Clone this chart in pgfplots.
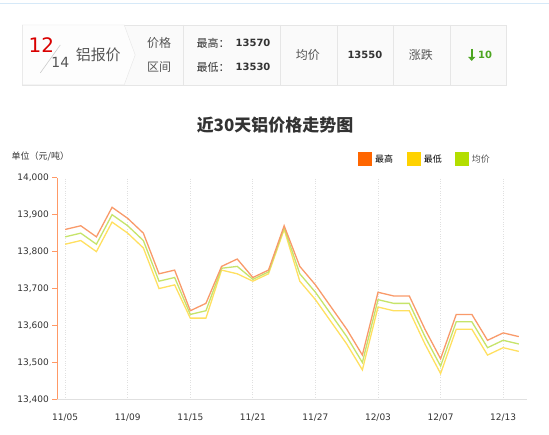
\documentclass[border=0pt]{standalone}
\usepackage{pgfplots}
\pgfplotsset{compat=1.18}
\usepackage{pgfplotstable}
\usepackage{fontspec}
\usetikzlibrary{arrows.meta}
\setmainfont{DejaVu Sans}
\newfontfamily\cjk{Noto Sans CJK SC}
\newfontfamily\dv{DejaVu Sans}
\definecolor{hiC}{HTML}{F99A6A}
\definecolor{loC}{HTML}{FFE060}
\definecolor{avC}{HTML}{C6E46A}
\definecolor{hiL}{HTML}{FF6600}
\definecolor{loL}{HTML}{FFD200}
\definecolor{avL}{HTML}{B3DE00}
\definecolor{axOr}{HTML}{FF9966}
\definecolor{txt}{HTML}{333333}
\definecolor{txtg}{HTML}{555555}
\definecolor{bord}{HTML}{E6E6E6}
\definecolor{gridC}{HTML}{E0E0E0}
\definecolor{upG}{HTML}{4CA520}
\pgfplotstableread{
i hi av lo
0 13860 13840 13820
1 13870 13850 13830
2 13840 13820 13800
3 13920 13900 13880
4 13890 13870 13850
5 13850 13830 13810
6 13740 13720 13700
7 13750 13730 13710
8 13640 13630 13620
9 13660 13640 13620
10 13760 13755 13750
11 13780 13760 13740
12 13730 13725 13720
13 13750 13745 13740
14 13870 13865 13860
15 13760 13740 13720
16 13710 13690 13670
17 13650 13630 13610
18 13590 13570 13550
19 13520 13500 13480
20 13690 13670 13650
21 13680 13660 13640
22 13680 13660 13640
23 13590 13570 13550
24 13510 13490 13470
25 13630 13610 13590
26 13630 13610 13590
27 13560 13540 13520
28 13580 13560 13540
29 13570 13550 13530
}\prices
\begin{document}
\begin{tikzpicture}[x=1pt,y=1pt]
\fill[white] (0,0) rectangle (549,435);
% top thin line
\draw[color={rgb,255:red,214;green,233;blue,248}, line width=0.8pt] (0,432) -- (549,432);
% header box
\filldraw[fill={rgb,255:red,250;green,250;blue,250}, draw=bord] (22,410) rectangle (507,350);
\filldraw[fill={rgb,255:red,253;green,253;blue,253}, draw=bord] (22,410) -- (124,410) -- (135,380) -- (124,350) -- (22,350) -- cycle;
\foreach \xx in {183,280,337,393,450} {\draw[bord] (\xx,410) -- (\xx,350);}
\draw[gray!40, line width=0.6pt] (40,362) -- (60,390);
\node[font=\dv\fontsize{20}{22}\selectfont, text=red!85!black] at (41,390) {12};
\node[font=\dv\fontsize{14}{16}\selectfont, text=txtg] at (60,372) {14};
\node[font=\cjk\fontsize{15}{17}\selectfont, text=txtg] at (98,380) {铝报价};
\node[font=\cjk\fontsize{12}{14}\selectfont, text=txtg] at (159,392) {价格};
\node[font=\cjk\fontsize{12}{14}\selectfont, text=txtg] at (159,368) {区间};
\node[font=\cjk\fontsize{11}{13}\selectfont, text=txt] at (213,392) {最高：};
\node[font=\cjk\fontsize{11}{13}\selectfont, text=txt] at (213,368) {最低：};
\node[font=\dv\bfseries\fontsize{10}{12}\selectfont, text=txt] at (253,392) {13570};
\node[font=\dv\bfseries\fontsize{10}{12}\selectfont, text=txt] at (253,368) {13530};
\node[font=\cjk\fontsize{12}{14}\selectfont, text=txtg] at (308,380) {均价};
\node[font=\dv\bfseries\fontsize{10}{12}\selectfont, text=txt] at (365,380) {13550};
\node[font=\cjk\fontsize{12}{14}\selectfont, text=txtg] at (421,380) {涨跌};
\draw[upG, line width=2.2pt, -{Triangle[length=4pt,width=7pt]}] (472,386) -- (472,374);
\node[font=\dv\bfseries\fontsize{10}{12}\selectfont, text=upG, anchor=west] at (475,380) {10};
% title
\node[font=\cjk\bfseries\fontsize{17}{19}\selectfont, text=txt] at (275,310) {近30天铝价格走势图};
\node[font=\cjk\fontsize{9}{10}\selectfont, text=txt, anchor=west, inner sep=0pt] at (11,278) {单位（元/吨）};
% legend
\fill[hiL] (358,283) rectangle (372,269);
\node[font=\cjk\fontsize{9}{10}\selectfont, text=black, anchor=west, inner sep=0pt] at (375,276) {最高};
\fill[loL] (407,283) rectangle (421,269);
\node[font=\cjk\fontsize{9}{10}\selectfont, text=black, anchor=west, inner sep=0pt] at (424,276) {最低};
\fill[avL] (455,283) rectangle (469,269);
\node[font=\cjk\fontsize{9}{10}\selectfont, text=txtg, anchor=west, inner sep=0pt] at (472,276) {均价};
\begin{axis}[
  at={(57pt,35pt)}, anchor=south west,
  width=470pt, height=222pt, scale only axis,
  xmin=-0.5, xmax=29.5, ymin=13400, ymax=14000,
  axis x line*=bottom, axis y line*=left,
  separate axis lines,
  axis line style={color=gridC, line width=1.5pt, -},
  xtick={0,4,8,12,16,20,24,28},
  xticklabels={11/05,11/09,11/15,11/21,11/27,12/03,12/07,12/13},
  ytick={13400,13500,13600,13700,13800,13900,14000},
  xtick style={draw=none},
  ytick style={draw=axOr, line width=1pt},
  tick align=outside, major tick length=5pt,
  xmajorgrids, grid style={dotted, gridC, line width=1pt},
  /pgf/number format/assume math mode=true,
  /pgf/number format/1000 sep={,},
  scaled ticks=false,
  tick label style={font=\dv\fontsize{9}{10}\selectfont, text=txt},
  xticklabel style={yshift=-6pt},
  clip=false,
]
\addplot[loC, line width=1.3pt] table[x=i,y=lo] {\prices};
\addplot[avC, line width=1.3pt] table[x=i,y=av] {\prices};
\addplot[hiC, line width=1.3pt] table[x=i,y=hi] {\prices};
\draw[axOr, line width=1.5pt] (rel axis cs:0,0) -- (rel axis cs:0,1);
\end{axis}
\end{tikzpicture}
\end{document}
